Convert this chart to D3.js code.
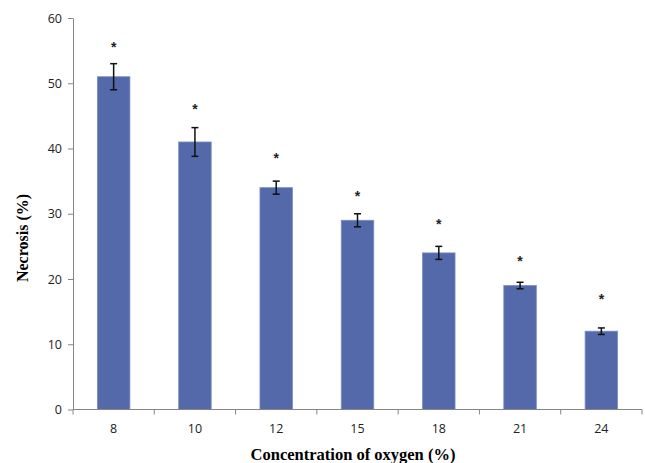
<!DOCTYPE html>
<html><head><meta charset="utf-8">
<script src="https://cdn.jsdelivr.net/npm/d3@7"></script>
<style>body{margin:0;background:#fff}</style>
</head><body>
<svg id="c" width="645" height="463"></svg>
<script>
const categories = ["8","10","12","15","18","21","24"];
const values = [51,41,34,29,24,19,12];
const errors = [2,2.2,1,1,1,0.5,0.5];
const starLevels = [55.8,46.3,38.8,33.1,28.7,23.0,17.2];
const yTicks = [0,10,20,30,40,50,60];

const svg = d3.select("#c");
const mLeft=73, mRight=642, mTop=18, mBottom=409.5;
const x = d3.scaleBand().domain(categories).range([mLeft,mRight]).paddingInner(0.6).paddingOuter(0.3);
const xb = d3.scaleBand().domain(categories).range([mLeft,mRight]);
const y = d3.scaleLinear().domain([0,60]).range([mBottom,mTop]);
const axisColor="#868686";

// y axis
const ya = svg.append("g").attr("transform",`translate(${mLeft},0)`)
  .call(d3.axisLeft(y).tickValues(yTicks).tickSize(5).tickSizeOuter(0).tickPadding(6));
ya.select(".domain").attr("stroke",axisColor);
ya.selectAll(".tick line").attr("stroke",axisColor);
ya.selectAll("text").attr("font-family","'Open Sans', sans-serif").attr("font-size",12.5).attr("fill","#222");

// bars
svg.append("g").selectAll("rect").data(values).join("rect")
  .attr("x",(d,i)=>x(categories[i])).attr("width",x.bandwidth())
  .attr("y",d=>y(d)).attr("height",d=>y(0)-y(d))
  .attr("fill","#5469A9").attr("stroke","#7C8DC4").attr("stroke-width",0.8);

// x axis
const xa = svg.append("g").attr("transform",`translate(0,${mBottom})`);
xa.append("line").attr("x1",mLeft).attr("x2",mRight).attr("stroke",axisColor);
xa.selectAll("line.t").data(d3.range(categories.length+1)).join("line").attr("class","t")
  .attr("x1",i=>mLeft+i*xb.step()).attr("x2",i=>mLeft+i*xb.step())
  .attr("y1",0).attr("y2",5).attr("stroke",axisColor);
xa.selectAll("text").data(categories).join("text")
  .attr("x",d=>xb(d)+xb.bandwidth()/2).attr("y",23.5)
  .attr("text-anchor","middle").attr("font-family","'Open Sans', sans-serif").attr("font-size",12.5).attr("fill","#222")
  .text(d=>d);

// error bars
const eg = svg.append("g").attr("stroke","#111").attr("stroke-width",1.5);
values.forEach((v,i)=>{
  const cx = x(categories[i])+x.bandwidth()/2;
  const e=errors[i];
  eg.append("line").attr("x1",cx).attr("x2",cx).attr("y1",y(v+e)).attr("y2",y(v-e));
  eg.append("line").attr("x1",cx-3.5).attr("x2",cx+3.5).attr("y1",y(v+e)).attr("y2",y(v+e));
  eg.append("line").attr("x1",cx-3.5).attr("x2",cx+3.5).attr("y1",y(v-e)).attr("y2",y(v-e));
});

// asterisks
svg.append("g").selectAll("text").data(starLevels).join("text")
  .attr("x",(d,i)=>x(categories[i])+x.bandwidth()/2).attr("y",d=>y(d)+7)
  .attr("text-anchor","middle").attr("font-family","'Liberation Sans', sans-serif").attr("font-weight","bold")
  .attr("font-size",14).attr("fill","#222").text("*");

// titles
svg.append("text").attr("x",353).attr("y",460).attr("text-anchor","middle")
  .attr("font-family","'Liberation Serif', serif").attr("font-weight","bold").attr("font-size",16.5)
  .text("Concentration of oxygen (%)");
svg.append("text").attr("transform","translate(28,238) rotate(-90)").attr("text-anchor","middle")
  .attr("font-family","'Liberation Serif', serif").attr("font-weight","bold").attr("font-size",16)
  .text("Necrosis (%)");
</script>
</body></html>
